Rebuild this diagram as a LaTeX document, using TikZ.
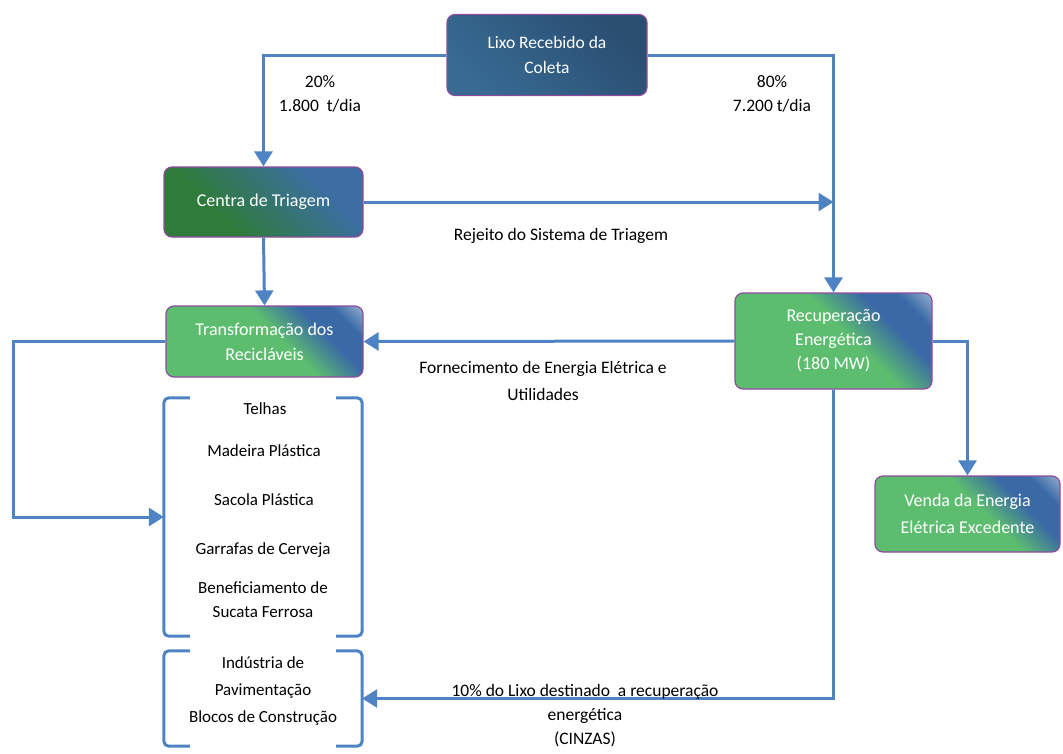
\documentclass[tikz,border=0pt]{standalone}
\usepackage{fontspec}
\setmainfont{Carlito}
\usetikzlibrary{arrows.meta}

\definecolor{flowblue}{HTML}{4F84C4}
\definecolor{boxedge}{HTML}{8E4B9E}
\definecolor{lixoA}{HTML}{386A93}
\definecolor{lixoB}{HTML}{2A4E70}
\definecolor{tgreen}{HTML}{2E7B3B}
\definecolor{tblue}{HTML}{3C6EA4}
\definecolor{lgreen}{HTML}{5CBD6F}
\definecolor{mblue}{HTML}{3A6AA5}
\definecolor{pale}{HTML}{C5D6E8}

\pgfdeclarehorizontalshading{lixoshade}{100bp}{color(0bp)=(lixoA); color(25bp)=(lixoA); color(75bp)=(lixoB); color(100bp)=(lixoB)}
\pgfdeclarehorizontalshading{triagemshade}{100bp}{color(0bp)=(tgreen); color(35bp)=(tgreen); color(70bp)=(tblue); color(100bp)=(tblue)}
\pgfdeclarehorizontalshading{greenshade}{100bp}{color(0bp)=(lgreen); color(55bp)=(lgreen); color(68bp)=(mblue); color(77bp)=(mblue); color(90bp)=(pale); color(100bp)=(pale)}

\begin{document}
\begin{tikzpicture}[x=1pt,y=-1pt,
    box/.style={draw=boxedge, line width=1.2pt, rounded corners=8pt, shade, shading angle=45,
        text=white, align=center, inner sep=0pt, font=\fontsize{18}{25}\selectfont},
    flow/.style={draw=flowblue, line width=3pt, -{Triangle[length=15pt,width=18pt]}},
    bracket/.style={draw=flowblue, line width=3pt, rounded corners=5pt},
    lbl/.style={align=center, font=\fontsize{17.5}{24}\selectfont},
    item/.style={align=center, font=\fontsize{17}{24}\selectfont}]
    \useasboundingbox (0,0) rectangle (1063,753);

    % boxes
    \node[box, shading=lixoshade, minimum width=200pt, minimum height=81pt, font=\fontsize{17.5}{25}\selectfont] (lixo) at (547,55) {Lixo Recebido da\\Coleta};
    \node[box, shading=triagemshade, minimum width=199pt, minimum height=70pt] (triagem) at (263.5,202) {Centra de Triagem};
    \node[box, shading=greenshade, minimum width=197pt, minimum height=71pt] (transf) at (264.5,341.5) {Transformação dos\\Recicláveis};
    \node[box, shading=greenshade, minimum width=197pt, minimum height=96pt, font=\fontsize{18}{24}\selectfont] (recup) at (833.5,341) {Recuperação\\Energética\\(180 MW)};
    \node[box, shading=greenshade, minimum width=185pt, minimum height=76pt, font=\fontsize{18}{27}\selectfont] (venda) at (967.5,514) {Venda da Energia\\Elétrica Excedente};

    % product groups
    \node[minimum width=198pt, minimum height=238pt, inner sep=0pt] (prod) at (263,517) {};
    \node[minimum width=198pt, minimum height=95pt, inner sep=0pt] (pav) at (263,698.5) {};
    \draw[bracket] ([xshift=26pt]prod.north west) -- (prod.north west) -- (prod.south west) -- ++(26,0);
    \draw[bracket] ([xshift=-26pt]prod.north east) -- (prod.north east) -- (prod.south east) -- ++(-26,0);
    \draw[bracket] ([xshift=26pt]pav.north west) -- (pav.north west) -- (pav.south west) -- ++(26,0);
    \draw[bracket] ([xshift=-26pt]pav.north east) -- (pav.north east) -- (pav.south east) -- ++(-26,0);

    \node[item] (telhas) at (265,409) {Telhas};
    \node[item] (madeira) at (264,451) {Madeira Plástica};
    \node[item] (sacola) at (264,500) {Sacola Plástica};
    \node[item] (garrafas) at (263,550) {Garrafas de Cerveja};
    \node[item] (sucata) at (263,600) {Beneficiamento de\\Sucata Ferrosa};
    \node[item, font=\fontsize{17}{27}\selectfont] (blocos) at (263,691) {Indústria de\\Pavimentação\\Blocos de Construção};

    % flows
    \coordinate (volta) at (13,341.5);
    \draw[flow] (lixo.west) -| (triagem.north);
    \draw[flow] (lixo.east) -| (recup.north);
    \draw[flow] (triagem.east) -- (recup.north |- triagem.east);
    \draw[flow] (triagem.south) -- (transf.north);
    \draw[flow] (recup.west) -- (transf.east);
    \draw[flow] (recup.east) -| (venda.north);
    \draw[flow] (recup.south) |- (pav.east);
    \draw[flow] (transf.west) -- (volta) |- (prod.west);

    % labels
    \node[lbl] (pct20) at (320,94) {20\%\\1.800\ \ t/dia};
    \node[lbl] (pct80) at (772,94) {80\%\\7.200 t/dia};
    \node[lbl] (rejeito) at (561,236) {Rejeito do Sistema de Triagem};
    \node[lbl, font=\fontsize{17.5}{27}\selectfont] (fornec) at (543,381) {Fornecimento de Energia Elétrica e\\Utilidades};
    \node[lbl] (cinzas) at (585,716) {10\% do Lixo destinado\ \ a recuperação\\energética\\(CINZAS)};
\end{tikzpicture}
\end{document}
